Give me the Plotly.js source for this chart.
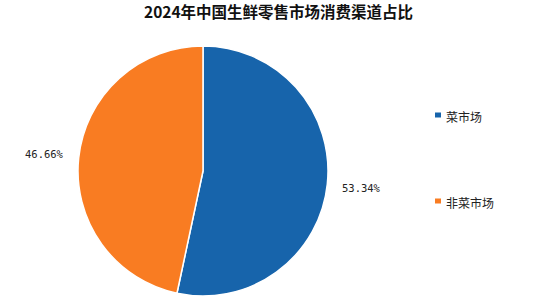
<!DOCTYPE html>
<html><head><meta charset="utf-8">
<script src="https://cdn.plot.ly/plotly-3.0.1.min.js"></script>
<style>html,body{margin:0;padding:0;background:#fff}#c{width:543px;height:297px}</style>
</head><body><div id="c"></div>
<script>
const categories = ["菜市场", "非菜市场"];
const values = [53.34, 46.66];
const colors = ["#1764ab", "#f97c22"];
const W = 543, H = 297;
const cx = 203, cy = 171, R = 125;

const total = values.reduce((a,b)=>a+b,0);
const anns = [];
let cum = 0;
values.forEach((v,i)=>{
  const mid = (cum + v/2)/total*2*Math.PI; cum += v;
  const r = 159;
  const px = cx + r*Math.sin(mid), py = cy - r*Math.cos(mid);
  anns.push({x:px/W, y:1-py/H, xref:'paper', yref:'paper', xanchor:'center', yanchor:'middle', showarrow:false,
    text: v.toFixed(2)+'%', font:{family:'DejaVu Sans Mono, monospace', size:10.5, color:'#222'}});
});
const legY = [115, 201];
const shapes = [];
categories.forEach((c,i)=>{
  shapes.push({type:'rect', xref:'paper', yref:'paper', x0:435/W, x1:441/W, y0:1-(legY[i]+2.5)/H, y1:1-(legY[i]-2.5)/H, fillcolor:colors[i], line:{width:0}});
  anns.push({x:444/W, y:1-(legY[i]+1)/H, xref:'paper', yref:'paper', xanchor:'left', yanchor:'middle', showarrow:false,
    text:c, font:{family:'Noto Sans CJK SC', size:12, color:'#222'}});
});
anns.push({x:278/W, y:1-11/H, xref:'paper', yref:'paper', xanchor:'center', yanchor:'middle', showarrow:false,
  text:'<b>2024年中国生鲜零售市场消费渠道占比</b>', font:{family:'Noto Sans CJK SC', size:15.5, color:'#111'}});

Plotly.newPlot('c', [{
  type:'pie', labels:categories, values:values, sort:false, direction:'clockwise', rotation:0,
  marker:{colors:colors, line:{color:'#fff', width:1.5}}, textinfo:'none', hoverinfo:'label+percent',
  domain:{x:[(cx-R)/W,(cx+R)/W], y:[(H-cy-R)/H,(H-cy+R)/H]}, showlegend:false
}], {
  width:W, height:H, margin:{l:0,r:0,t:0,b:0}, paper_bgcolor:'#fff', showlegend:false,
  annotations:anns, shapes:shapes
}, {displayModeBar:false, staticPlot:true});
</script></body></html>
